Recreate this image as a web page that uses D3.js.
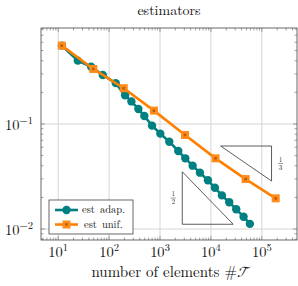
<!DOCTYPE html>
<html>
<head>
<meta charset="utf-8">
<script src="https://cdn.jsdelivr.net/npm/d3@7"></script>
<style>
  body { margin: 0; background: #fff; }
</style>
</head>
<body>
<div id="chart"></div>
<script>
// data
var adapElems = [11.8, 24.3, 44.4, 75.2, 135, 206, 274, 376, 492, 697, 1014, 1521, 2284, 3135,
                 4375, 6085, 8730, 11970, 16440, 22870, 31350, 43750, 58210];
var adapEst = [0.557, 0.401, 0.351, 0.293, 0.245, 0.1875, 0.164, 0.139, 0.119, 0.0964, 0.0809,
               0.0678, 0.0553, 0.0471, 0.0401, 0.0344, 0.0291, 0.0247, 0.0209, 0.0180, 0.0154,
               0.0131, 0.0112];
var unifElems = [11.8, 49, 194, 760, 3100, 12300, 48000, 187000];
var unifEst = [0.557, 0.334, 0.219, 0.134, 0.0786, 0.0471, 0.0299, 0.0196];
var xTicks = [1e1, 1e2, 1e3, 1e4, 1e5];
var yTicks = [1e-2, 1e-1];
// slope triangles: x start, x end, y at the corner, exponent
var slopeTri = [
  { x0: 15500, x1: 155000, y: 0.0617, rate: 1 / 3, label: ["1", "3"], kind: "top" },
  { x0: 2735, x1: 27350, y: 0.0111, rate: 1 / 2, label: ["1", "2"], kind: "bottom" }
];

var W = 298, H = 286;
var margin = { top: 28, right: 1, bottom: 46, left: 41 };
var w = W - margin.left - margin.right, h = H - margin.top - margin.bottom;
var serif = "Latin Modern Roman, Liberation Serif, serif";

var svg = d3.select("#chart").append("svg").attr("width", W).attr("height", H)
  .attr("font-family", serif).attr("fill", "#111");
var g = svg.append("g").attr("transform", "translate(" + margin.left + "," + margin.top + ")");

var x = d3.scaleLog().domain([4.6, 4.9e5]).range([0, w]);
var y = d3.scaleLog().domain([0.00786, 0.82]).range([h, 0]);

// minor ticks
var xMinor = [], yMinor = [];
for (var e = 0; e <= 5; e++) for (var k = 1; k < 10; k++) {
  var v = k * Math.pow(10, e);
  if (v >= x.domain()[0] && v <= x.domain()[1]) xMinor.push(v);
}
for (var e = -3; e <= 0; e++) for (var k = 1; k < 10; k++) {
  var v = k * Math.pow(10, e);
  if (v >= y.domain()[0] && v <= y.domain()[1]) yMinor.push(v);
}

// grid
g.selectAll(".gx").data(xTicks).enter().append("line")
  .attr("x1", d => x(d)).attr("x2", d => x(d)).attr("y1", 0).attr("y2", h)
  .attr("stroke", "#d6d6d6").attr("stroke-width", 1);
g.selectAll(".gy").data(yTicks).enter().append("line")
  .attr("y1", d => y(d)).attr("y2", d => y(d)).attr("x1", 0).attr("x2", w)
  .attr("stroke", "#d6d6d6").attr("stroke-width", 1);

// ticks, pointing inward on all sides
function tickLen(d) { return Math.abs(Math.log10(d) - Math.round(Math.log10(d))) < 1e-9 ? 4 : 2.5; }
var tk = g.append("g").attr("stroke", "#666").attr("stroke-width", 0.6);
xMinor.forEach(function(d) {
  tk.append("line").attr("x1", x(d)).attr("x2", x(d)).attr("y1", h).attr("y2", h - tickLen(d));
  tk.append("line").attr("x1", x(d)).attr("x2", x(d)).attr("y1", 0).attr("y2", tickLen(d));
});
yMinor.forEach(function(d) {
  tk.append("line").attr("y1", y(d)).attr("y2", y(d)).attr("x1", 0).attr("x2", tickLen(d));
  tk.append("line").attr("y1", y(d)).attr("y2", y(d)).attr("x1", w).attr("x2", w - tickLen(d));
});

// tick labels
function powLabel(sel, d) {
  var ex = Math.round(Math.log10(d));
  sel.append("tspan").text("10");
  sel.append("tspan").attr("dy", -6).attr("font-size", 10.5).text(ex < 0 ? "\u2212" + (-ex) : ex);
}
g.selectAll(".xl").data(xTicks).enter().append("text")
  .attr("x", d => x(d)).attr("y", h + 17).attr("text-anchor", "middle").attr("font-size", 14.5)
  .each(function(d) { powLabel(d3.select(this), d); });
g.selectAll(".yl").data(yTicks).enter().append("text")
  .attr("x", -8).attr("y", d => y(d) + 6).attr("text-anchor", "end").attr("font-size", 14.5)
  .each(function(d) { powLabel(d3.select(this), d); });

// frame
g.append("rect").attr("width", w).attr("height", h).attr("fill", "none")
  .attr("stroke", "#444").attr("stroke-width", 0.8);

// slope triangles
slopeTri.forEach(function(t) {
  var yo = t.kind === "top" ? t.y / Math.pow(10, t.rate) : t.y * Math.pow(10, t.rate);
  var pts = t.kind === "top"
    ? [[x(t.x0), y(t.y)], [x(t.x1), y(t.y)], [x(t.x1), y(yo)]]
    : [[x(t.x0), y(yo)], [x(t.x0), y(t.y)], [x(t.x1), y(t.y)]];
  g.append("path").attr("d", "M" + pts.join("L") + "Z")
    .attr("fill", "none").attr("stroke", "#333").attr("stroke-width", 0.8);
  var lx = t.kind === "top" ? x(t.x1) + 9 : x(t.x0) - 9;
  var ly = (y(t.y) + y(yo)) / 2;
  var fr = g.append("g").attr("transform", "translate(" + lx + "," + ly + ")");
  fr.append("text").attr("y", -1.5).attr("text-anchor", "middle").attr("font-size", 6.5).text(t.label[0]);
  fr.append("line").attr("x1", -2.5).attr("x2", 2.5).attr("y1", 0).attr("y2", 0).attr("stroke", "#333").attr("stroke-width", 0.5);
  fr.append("text").attr("y", 6.5).attr("text-anchor", "middle").attr("font-size", 6.5).text(t.label[1]);
});

var line = d3.line().x(d => x(d[0])).y(d => y(d[1]));
var teal = "#008080", orange = "#ff8000";

var adap = d3.zip(adapElems, adapEst);
var unif = d3.zip(unifElems, unifEst);

g.append("path").datum(adap).attr("d", line).attr("fill", "none").attr("stroke", teal).attr("stroke-width", 2.6);
g.selectAll(".ca").data(adap).enter().append("circle")
  .attr("cx", d => x(d[0])).attr("cy", d => y(d[1])).attr("r", 4.2).attr("fill", teal);

g.append("path").datum(unif).attr("d", line).attr("fill", "none").attr("stroke", orange).attr("stroke-width", 2.6);
function square(sel, cx, cy) {
  sel.append("rect").attr("x", cx - 4).attr("y", cy - 4).attr("width", 8).attr("height", 8).attr("fill", "#ff8c1a");
  sel.append("rect").attr("x", cx - 1.3).attr("y", cy - 1.3).attr("width", 2.6).attr("height", 2.6).attr("fill", "#c25c00");
}
unif.forEach(function(d) { square(g, x(d[0]), y(d[1])); });

// legend
var lg = g.append("g").attr("transform", "translate(" + (49 - margin.left) + "," + (200 - margin.top) + ")");
lg.append("rect").attr("width", 84).attr("height", 34).attr("fill", "#fff").attr("stroke", "#444").attr("stroke-width", 0.8);
lg.append("line").attr("x1", 6).attr("x2", 29).attr("y1", 10).attr("y2", 10).attr("stroke", teal).attr("stroke-width", 2.6);
lg.append("circle").attr("cx", 17.5).attr("cy", 10).attr("r", 4.2).attr("fill", teal);
lg.append("text").attr("x", 33).attr("y", 13).attr("font-size", 10.5).attr("word-spacing", 1.5).text("est adap.");
lg.append("line").attr("x1", 6).attr("x2", 29).attr("y1", 24.5).attr("y2", 24.5).attr("stroke", orange).attr("stroke-width", 2.6);
square(lg, 17.5, 24.5);
lg.append("text").attr("x", 35).attr("y", 27.5).attr("font-size", 10.5).attr("word-spacing", 1.5).text("est unif.");

// title and axis label
svg.append("text").attr("x", 169).attr("y", 15).attr("text-anchor", "middle").attr("font-size", 14).text("estimators");
var xl = svg.append("text").attr("x", 170).attr("y", 277).attr("text-anchor", "middle").attr("font-size", 15);
xl.append("tspan").text("number of elements #");
xl.append("tspan").attr("font-family", "Latin Modern Math, serif").attr("font-style", "italic").text("\uD835\uDCAF");
</script>
</body>
</html>
